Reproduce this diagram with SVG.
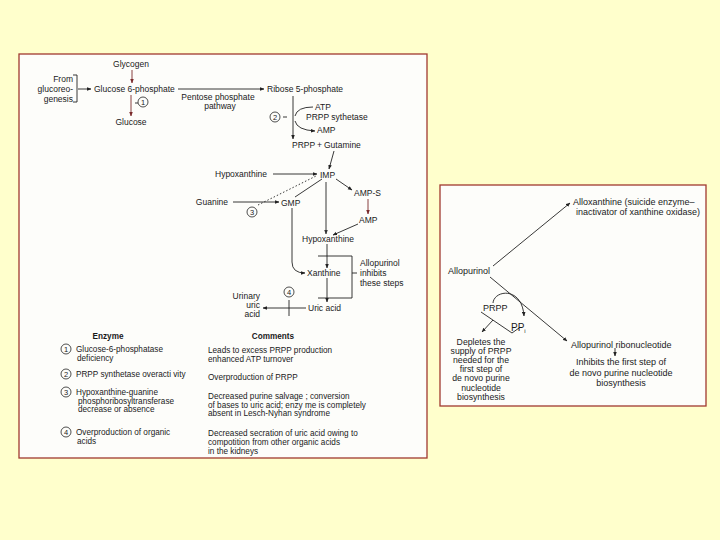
<svg xmlns="http://www.w3.org/2000/svg" width="720" height="540" viewBox="0 0 720 540">
<defs>
<marker id="ah" viewBox="0 0 10 10" refX="9" refY="5" markerWidth="5" markerHeight="5" orient="auto-start-reverse"><path d="M0,1 L10,5 L0,9 z" fill="#222"/></marker>
<marker id="ahr" viewBox="0 0 10 10" refX="9" refY="5" markerWidth="5" markerHeight="5" orient="auto"><path d="M0,1 L10,5 L0,9 z" fill="#7a2a2a"/></marker>
<marker id="ahg" viewBox="0 0 10 10" refX="9" refY="5" markerWidth="5" markerHeight="5" orient="auto"><path d="M0,1 L10,5 L0,9 z" fill="#333"/></marker>
<style>
text{font-family:"Liberation Sans",Arial,sans-serif;font-size:8.5px;fill:#1a1a1a}
.r text{font-size:9px}
#depletes text{font-size:8.7px}
#table text{font-size:8.2px}
.b{font-weight:bold}
.m{text-anchor:middle}
.e{text-anchor:end}
.ln{fill:none;stroke:#222;stroke-width:0.9}
.red{stroke:#7a2a2a}
.num circle{fill:none;stroke:#222;stroke-width:0.8}
.num text,#table .num text{font-size:7.5px;text-anchor:middle}
.panel{fill:#fdfdfa;stroke:#a03a30;stroke-width:1.3}
</style>
</defs>
<rect width="720" height="540" fill="#ffffcc"/>
<rect class="panel" x="19" y="54" width="408" height="404"/>
<rect class="panel" x="440" y="185" width="266" height="221"/>

<g id="connectors">
<line class="ln red" x1="132" y1="70" x2="132" y2="83" marker-end="url(#ahr)"/>
<path class="ln" d="M73,75 H77 V102 H73"/>
<line class="ln" x1="78" y1="89" x2="91" y2="89" marker-end="url(#ah)"/>
<line class="ln" x1="178" y1="89" x2="264" y2="89" marker-end="url(#ah)"/>
<line class="ln red" x1="131" y1="95" x2="131" y2="116" marker-end="url(#ahr)"/>
<line class="ln" x1="135" y1="103" x2="138" y2="103"/>
<line class="ln" x1="293" y1="96" x2="293" y2="139" marker-end="url(#ah)"/>
<path class="ln" d="M313,107 Q297,107 295,116"/>
<path class="ln" d="M295,121 Q297,130 315,131" marker-end="url(#ah)"/>
<line class="ln" x1="283" y1="117" x2="287" y2="117"/>
<line class="ln" x1="334" y1="151" x2="329" y2="169" marker-end="url(#ah)"/>
<line class="ln" x1="273" y1="174" x2="317" y2="174" marker-end="url(#ah)"/>
<line class="ln" x1="258" y1="205" x2="316" y2="176" stroke-dasharray="1.5,2"/>
<line class="ln" x1="233" y1="202" x2="279" y2="202" marker-end="url(#ah)"/>
<line class="ln" x1="295" y1="197" x2="322" y2="179"/>
<line class="ln" x1="336" y1="179" x2="352" y2="190" marker-end="url(#ah)"/>
<line class="ln red" x1="368" y1="199" x2="368" y2="214" marker-end="url(#ahr)"/>
<line class="ln" x1="358" y1="224" x2="333" y2="235" marker-end="url(#ah)"/>
<line class="ln" x1="326" y1="182" x2="326" y2="234" stroke="#6db36d" marker-end="url(#ahg)"/>
<line class="ln" x1="327" y1="244" x2="327" y2="268" marker-end="url(#ah)"/>
<path class="ln" d="M292,208 V262 Q292,273 305,273" marker-end="url(#ah)"/>
<line class="ln" x1="327" y1="278" x2="327" y2="302" marker-end="url(#ah)"/>
<path class="ln" d="M318,256 H352 V298 H318"/>
<line class="ln" x1="352" y1="273" x2="357" y2="273"/>
<line class="ln" x1="306" y1="308" x2="263" y2="308" marker-end="url(#ah)"/>
<line class="ln" x1="289" y1="300" x2="289" y2="316" stroke="#4aa0a0"/>
<line class="ln" x1="493" y1="266" x2="570" y2="203" marker-end="url(#ah)"/>
<line class="ln" x1="490" y1="277" x2="567" y2="341" marker-end="url(#ah)"/>
<path class="ln" d="M493,303 C494,290 522,286 524,316" marker-end="url(#ah)"/>
<path class="ln" d="M481,312 L512,333 L519,328"/>
<line class="ln" x1="493" y1="320" x2="482" y2="332" marker-end="url(#ah)"/>
<line class="ln" x1="615" y1="348" x2="615" y2="356" marker-end="url(#ah)"/>
</g>

<g id="glycogen"><text class="m" x="131" y="67">Glycogen</text></g>
<g id="gluconeogenesis"><text class="e" x="73" y="82">From</text><text class="e" x="73" y="92">glucoreo-</text><text class="e" x="73" y="102">genesis</text></g>
<g id="g6p"><text x="94" y="92">Glucose 6-phosphate</text></g>
<g id="pentose"><text class="m" x="218" y="100">Pentose phosphate</text><text class="m" x="220" y="109">pathway</text></g>
<g id="r5p"><text x="267" y="92">Ribose 5-phosphate</text></g>
<g id="glucose"><text class="m" x="131" y="125">Glucose</text></g>
<g id="n1" class="num"><circle cx="143" cy="102" r="5"/><text x="143" y="104.8">1</text></g>
<g id="atp"><text x="315" y="110">ATP</text></g>
<g id="n2" class="num"><circle cx="275" cy="117" r="5"/><text x="275" y="119.8">2</text></g>
<g id="prpps"><text x="306" y="120">PRPP sythetase</text></g>
<g id="amp1"><text x="317" y="133">AMP</text></g>
<g id="prpp"><text x="292" y="148">PRPP</text><text x="317" y="148">+</text><text x="324" y="148">Gutamine</text></g>
<g id="hypox1"><text x="215" y="177">Hypoxanthine</text></g>
<g id="imp"><text x="320" y="178">IMP</text></g>
<g id="amps"><text x="354" y="196">AMP-S</text></g>
<g id="guanine"><text class="e" x="228" y="205">Guanine</text></g>
<g id="n3" class="num"><circle cx="252" cy="212" r="5"/><text x="252" y="214.8">3</text></g>
<g id="gmp"><text x="281" y="206">GMP</text></g>
<g id="amp2"><text x="359" y="223">AMP</text></g>
<g id="hypox2"><text x="302" y="242">Hypoxanthine</text></g>
<g id="allo-inh"><text x="360" y="266">Allopurinol</text><text x="360" y="276">inhibits</text><text x="360" y="286">these steps</text></g>
<g id="xanthine"><text x="307" y="276">Xanthine</text></g>
<g id="n4" class="num"><circle cx="289" cy="292" r="5"/><text x="289" y="294.8">4</text></g>
<g id="urinary"><text class="e" x="260" y="299">Urinary</text><text class="e" x="260" y="308">uric</text><text class="e" x="260" y="317">acid</text></g>
<g id="uric"><text x="308" y="311">Uric acid</text></g>

<g id="table">
<text class="b m" x="108" y="339">Enzyme</text>
<text class="b m" x="273" y="339">Comments</text>
<g class="num"><circle cx="66" cy="349" r="5"/><text x="66" y="351.8">1</text></g>
<text x="76" y="352">Glucose-6-phosphatase</text><text x="77" y="361">deficiency</text>
<text x="208" y="352.5">Leads to excess PRPP production</text><text x="208" y="361.5">enhanced  ATP  turnover</text>
<g class="num"><circle cx="66" cy="374" r="5"/><text x="66" y="376.8">2</text></g>
<text x="76" y="377">PRPP synthetase overacti vity</text>
<text x="208" y="380">Overproduction of PRPP</text>
<g class="num"><circle cx="66" cy="392" r="5"/><text x="66" y="394.8">3</text></g>
<text x="76" y="395">Hypoxanthine-guanine</text><text x="78" y="403.5">phosphoribosyltransferase</text><text x="78" y="412">decrease or absence</text>
<text x="208" y="399">Decreased purine salvage ;  conversion</text><text x="208" y="407.5">of bases to uric acid;  enzy me is completely</text><text x="208" y="416">absent in Lesch-Nyhan syndrome</text>
<g class="num"><circle cx="66" cy="432" r="5"/><text x="66" y="434.8">4</text></g>
<text x="76" y="435">Overproduction of organic</text><text x="77" y="444">acids</text>
<text x="208" y="436">Decreased secration of uric acid owing to</text><text x="208" y="444.8">compotition from other organic acids</text><text x="208" y="453.6">in the kidneys</text>
</g>

<g class="r">
<g id="alloxanthine"><text x="573" y="204.5">Alloxanthine (suicide enzyme–</text><text x="576" y="214.5">inactivator of xanthine oxidase)</text></g>
<g id="allopurinol"><text x="448" y="274">Allopurinol</text></g>
<g id="prpp2"><text x="483" y="311">PRPP</text></g>
<g id="ppi"><text x="511" y="331" style="font-size:10px">PP<tspan dy="2" style="font-size:6px">i</tspan></text></g>
<g id="depletes"><text class="m" x="481" y="344.5">Depletes the</text><text class="m" x="481" y="353.7">supply of PRPP</text><text class="m" x="481" y="362.9">needed for the</text><text class="m" x="481" y="372.1">first step of</text><text class="m" x="481" y="381.3">de novo purine</text><text class="m" x="481" y="390.5">nucleotide</text><text class="m" x="481" y="399.7">biosynthesis</text></g>
<g id="ribonucleotide"><text x="571" y="348">Allopurinol ribonucleotide</text></g>
<g id="inhibits"><text class="m" x="621" y="365">Inhibits the first step of</text><text class="m" x="621" y="376">de novo purine nucleotide</text><text class="m" x="621" y="386">biosynthesis</text></g>
</g>
</svg>
